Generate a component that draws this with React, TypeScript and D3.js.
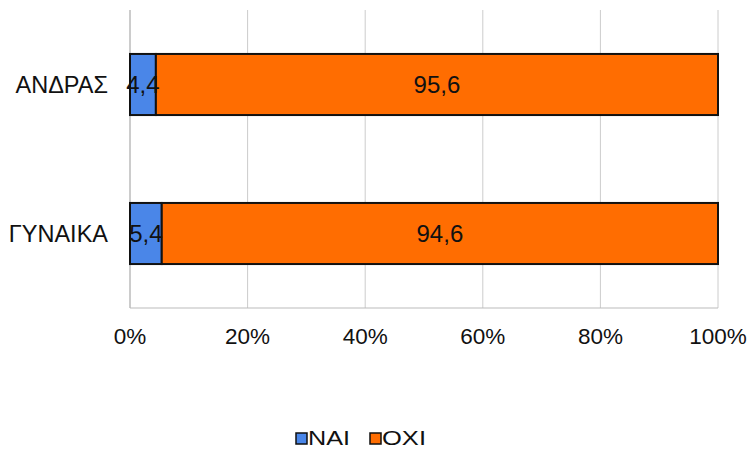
import React from "react";
import * as d3 from "d3";

const categories = ["ΑΝΔΡΑΣ", "ΓΥΝΑΙΚΑ"];
const seriesNames = ["ΝΑΙ", "ΟΧΙ"];
const naiValues = [4.4, 5.4];
const oxiValues = [95.6, 94.6];
const tickValues = [0, 20, 40, 60, 80, 100];
const colors = ["#4a86e8", "#ff6d01"];

const W = 751, H = 450;
const left = 130, right = 718, top = 10, bottom = 308;
const font = "'Liberation Sans', Arial, sans-serif";

export default function App() {
  const x = d3.scaleLinear().domain([0, 100]).range([left, right]);
  const y = d3.scaleBand<string>().domain(categories).range([top, bottom]).paddingInner(0.59).paddingOuter(0.295);
  const fmt = (v: number) => v.toFixed(1).replace(".", ",");
  const rows = categories.map((c, i) => ({ c, vals: [naiValues[i], oxiValues[i]] }));
  return (
    <svg width={W} height={H} style={{ position: "absolute", left: 0, top: 0, background: "#fff" }} fontFamily={font}>
      {tickValues.map((t) => (
        <line key={t} x1={x(t)} x2={x(t)} y1={top} y2={bottom} stroke={t === 0 ? "#999" : "#ccc"} strokeWidth={1} />
      ))}
      <line x1={left} x2={right} y1={bottom} y2={bottom} stroke="#bbb" strokeWidth={1} />
      {tickValues.map((t) => (
        <text key={t} x={x(t)} y={344} textAnchor="middle" fontSize={22.5} fill="#111">{t}%</text>
      ))}
      {rows.map((r) => {
        let acc = 0;
        const y0 = y(r.c)!;
        const bw = y.bandwidth();
        return (
          <g key={r.c}>
            {r.vals.map((v, j) => {
              const x0 = x(acc);
              acc += v;
              const x1 = x(acc);
              return (
                <rect key={j} x={x0} y={y0} width={x1 - x0} height={bw} fill={colors[j]} stroke="#111" strokeWidth={2} />
              );
            })}
            {(() => {
              let a = 0;
              return r.vals.map((v, j) => {
                const cx = x(a + v / 2);
                a += v;
                return (
                  <text key={"t" + j} x={cx} y={y0 + bw / 2 + 8.5} textAnchor="middle" fontSize={24} fill="#111">{fmt(v)}</text>
                );
              });
            })()}
            <text x={108} y={y0 + bw / 2 + 8} textAnchor="end" fontSize={23.5} fill="#111">{r.c}</text>
          </g>
        );
      })}
      <g>
        {seriesNames.map((s, i) => {
          const lx = i === 0 ? 296 : 370;
          return (
            <g key={s}>
              <rect x={lx} y={433} width={11} height={11} fill={colors[i]} stroke="#111" strokeWidth={1.5} />
              <text x={lx + 12} y={445} fontSize={20} fill="#111" textLength={i === 0 ? 42 : 44} lengthAdjust="spacingAndGlyphs">{s}</text>
            </g>
          );
        })}
      </g>
    </svg>
  );
}
